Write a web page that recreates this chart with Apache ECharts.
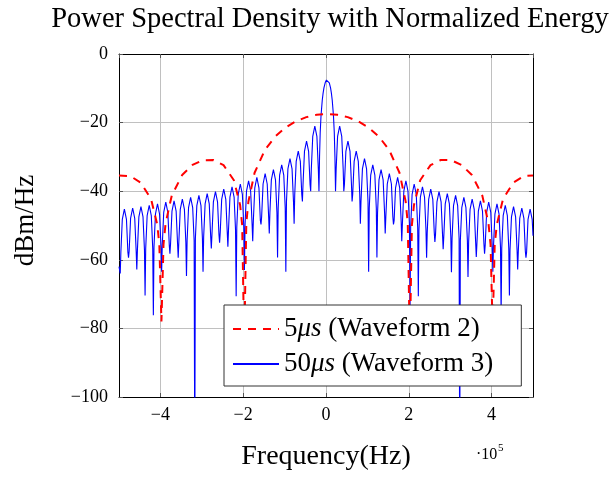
<!DOCTYPE html>
<html><head><meta charset="utf-8">
<script src="https://cdn.jsdelivr.net/npm/echarts@6/dist/echarts.min.js"></script>
<style>html,body{margin:0;padding:0;background:#fff}#c{width:610px;height:477px}</style>
</head><body><div id="c"></div>
<script>
// Frequencies in units of 1e5 Hz, values in dBm/Hz
const titleText = 'Power Spectral Density with Normalized Energy';
const xName = 'Frequency(Hz)';
const yName = 'dBm/Hz';
const seriesNames = ['5μs (Waveform 2)', '50μs (Waveform 3)'];
const xTickValues = [-4, -2, 0, 2, 4];
const yTickValues = [-100, -80, -60, -40, -20, 0];

const red5us = [
[-5,-35.4],[-4.725,-35.6],[-4.475,-37.5],[-4.225,-42.3],[-4.075,-49.8],[-4.025,-55.7],[-3.975,-78],[-3.925,-55.5],[-3.875,-49.4],[-3.725,-41.25],[-3.475,-35.3],[-3.225,-32.35],[-2.975,-30.96],[-2.725,-30.9],[-2.475,-32.4],[-2.225,-36.8],[-2.075,-44.0],[-2.025,-49.8],[-1.975,-85],[-1.925,-49.3],[-1.875,-43.1],[-1.725,-34.63],[-1.475,-27.95],[-1.225,-24.05],[-0.975,-21.42],[-0.725,-19.61],[-0.475,-18.41],[-0.225,-17.72],[0.025,-17.5],[0.275,-17.72],[0.525,-18.41],[0.775,-19.61],[1.025,-21.42],[1.275,-24.05],[1.525,-27.95],[1.775,-34.63],[1.925,-43.1],[1.975,-49.3],[2.025,-85],[2.075,-49.8],[2.125,-44.0],[2.275,-36.8],[2.525,-32.4],[2.775,-30.9],[3.025,-30.96],[3.275,-32.35],[3.525,-35.3],[3.775,-41.25],[3.925,-49.4],[3.975,-55.5],[4.025,-80],[4.075,-55.7],[4.125,-49.8],[4.275,-42.3],[4.525,-37.5],[4.775,-35.6],[5,-35.4]
];

const blue50us = [
[-5,-62],[-4.97,-64],
[-4.955,-57.8],[-4.92,-48.2],[-4.87,-45.2],[-4.82,-48.2],[-4.785,-57.8],[-4.77,-59.4],
[-4.755,-57.5],[-4.72,-47.9],[-4.67,-44.9],[-4.62,-47.9],[-4.585,-57.5],[-4.57,-62.8],
[-4.555,-57.1],[-4.52,-47.5],[-4.47,-44.5],[-4.42,-47.5],[-4.385,-57.1],[-4.37,-70.4],
[-4.355,-56.7],[-4.32,-47.1],[-4.27,-44.1],[-4.22,-47.1],[-4.185,-56.7],[-4.17,-76.2],
[-4.155,-56.3],[-4.12,-46.7],[-4.07,-43.7],[-4.02,-46.7],[-3.985,-56.3],[-3.97,-63.5],
[-3.955,-55.8],[-3.92,-46.2],[-3.87,-43.2],[-3.82,-46.2],[-3.785,-55.8],[-3.77,-58.2],
[-3.755,-55.4],[-3.72,-45.8],[-3.67,-42.8],[-3.62,-45.8],[-3.585,-55.4],[-3.57,-59.4],
[-3.555,-54.9],[-3.52,-45.3],[-3.47,-42.3],[-3.42,-45.3],[-3.385,-54.9],[-3.37,-64.7],
[-3.355,-54.4],[-3.32,-44.8],[-3.27,-41.8],[-3.22,-44.8],[-3.185,-54.4],[-3.17,-120],
[-3.155,-53.8],[-3.12,-44.2],[-3.07,-41.2],[-3.02,-44.2],[-2.985,-53.8],[-2.97,-63.5],
[-2.955,-53.3],[-2.92,-43.7],[-2.87,-40.7],[-2.82,-43.7],[-2.785,-53.3],[-2.77,-56.7],
[-2.755,-52.7],[-2.72,-43.1],[-2.67,-40.1],[-2.62,-43.1],[-2.585,-52.7],[-2.57,-55],
[-2.555,-52.0],[-2.52,-42.4],[-2.47,-39.4],[-2.42,-42.4],[-2.385,-52.0],[-2.37,-56.2],
[-2.355,-51.3],[-2.32,-41.7],[-2.27,-38.7],[-2.22,-41.7],[-2.185,-51.3],[-2.17,-70.6],
[-2.155,-50.5],[-2.12,-40.9],[-2.07,-37.9],[-2.02,-40.9],[-1.985,-50.5],[-1.97,-63],
[-1.955,-49.6],[-1.92,-40.0],[-1.87,-37.0],[-1.82,-40.0],[-1.785,-49.6],[-1.77,-54.6],
[-1.755,-48.6],[-1.72,-39.0],[-1.67,-36.0],[-1.62,-39.0],[-1.585,-48.6],[-1.57,-49.7],
[-1.555,-47.5],[-1.52,-37.9],[-1.47,-34.9],[-1.42,-37.9],[-1.385,-47.5],[-1.37,-52.3],
[-1.355,-46.3],[-1.32,-36.7],[-1.27,-33.7],[-1.22,-36.7],[-1.185,-46.3],[-1.17,-59.3],
[-1.155,-44.9],[-1.12,-35.3],[-1.07,-32.3],[-1.02,-35.3],[-0.985,-44.9],[-0.97,-63.5],
[-0.955,-43.1],[-0.92,-33.5],[-0.87,-30.5],[-0.82,-33.5],[-0.785,-43.1],[-0.77,-49.5],
[-0.755,-40.9],[-0.72,-31.3],[-0.67,-28.3],[-0.62,-31.3],[-0.585,-40.9],[-0.57,-43],
[-0.555,-38.0],[-0.52,-28.4],[-0.47,-25.4],[-0.42,-28.4],[-0.385,-38.0],[-0.37,-40],
[-0.355,-33.6],[-0.32,-24.0],[-0.27,-21.0],[-0.22,-24.0],[-0.185,-33.6],[-0.17,-40],
[-0.156,-30.0],[-0.14,-22.9],[-0.12,-17.95],[-0.09,-13.4],[-0.07,-11.4],[-0.05,-9.9],[-0.02,-8.4],[0.01,-7.6],[0.03,-7.5],[0.05,-7.6],[0.08,-8.4],[0.11,-9.9],[0.13,-11.4],[0.15,-13.4],[0.18,-17.95],[0.2,-22.9],[0.216,-30.0],[0.23,-40],
[0.245,-33.6],[0.28,-24.0],[0.33,-21.0],[0.38,-24.0],[0.415,-33.6],[0.43,-40],
[0.445,-38.0],[0.48,-28.4],[0.53,-25.4],[0.58,-28.4],[0.615,-38.0],[0.63,-43],
[0.645,-40.9],[0.68,-31.3],[0.73,-28.3],[0.78,-31.3],[0.815,-40.9],[0.83,-49.5],
[0.845,-43.1],[0.88,-33.5],[0.93,-30.5],[0.98,-33.5],[1.015,-43.1],[1.03,-63.5],
[1.045,-44.9],[1.08,-35.3],[1.13,-32.3],[1.18,-35.3],[1.215,-44.9],[1.23,-59.3],
[1.245,-46.3],[1.28,-36.7],[1.33,-33.7],[1.38,-36.7],[1.415,-46.3],[1.43,-52.3],
[1.445,-47.5],[1.48,-37.9],[1.53,-34.9],[1.58,-37.9],[1.615,-47.5],[1.63,-49.7],
[1.645,-48.6],[1.68,-39.0],[1.73,-36.0],[1.78,-39.0],[1.815,-48.6],[1.83,-54.6],
[1.845,-49.6],[1.88,-40.0],[1.93,-37.0],[1.98,-40.0],[2.015,-49.6],[2.03,-74],
[2.045,-50.5],[2.08,-40.9],[2.13,-37.9],[2.18,-40.9],[2.215,-50.5],[2.23,-70.6],
[2.245,-51.3],[2.28,-41.7],[2.33,-38.7],[2.38,-41.7],[2.415,-51.3],[2.43,-59.4],
[2.445,-52.0],[2.48,-42.4],[2.53,-39.4],[2.58,-42.4],[2.615,-52.0],[2.63,-54.8],
[2.645,-52.7],[2.68,-43.1],[2.73,-40.1],[2.78,-43.1],[2.815,-52.7],[2.83,-56.9],
[2.845,-53.3],[2.88,-43.7],[2.93,-40.7],[2.98,-43.7],[3.015,-53.3],[3.03,-63.6],
[3.045,-53.8],[3.08,-44.2],[3.13,-41.2],[3.18,-44.2],[3.215,-53.8],[3.23,-120],
[3.245,-54.4],[3.28,-44.8],[3.33,-41.8],[3.38,-44.8],[3.415,-54.4],[3.43,-65],
[3.445,-54.9],[3.48,-45.3],[3.53,-42.3],[3.58,-45.3],[3.615,-54.9],[3.63,-59.2],
[3.645,-55.4],[3.68,-45.8],[3.73,-42.8],[3.78,-45.8],[3.815,-55.4],[3.83,-58.2],
[3.845,-55.8],[3.88,-46.2],[3.93,-43.2],[3.98,-46.2],[4.015,-55.8],[4.03,-63.5],
[4.045,-56.3],[4.08,-46.7],[4.13,-43.7],[4.18,-46.7],[4.215,-56.3],[4.23,-76.2],
[4.245,-56.7],[4.28,-47.1],[4.33,-44.1],[4.38,-47.1],[4.415,-56.7],[4.43,-70.4],
[4.445,-57.1],[4.48,-47.5],[4.53,-44.5],[4.58,-47.5],[4.615,-57.1],[4.63,-62.8],
[4.645,-57.5],[4.68,-47.9],[4.73,-44.9],[4.78,-47.9],[4.815,-57.5],[4.83,-59.4],
[4.845,-57.8],[4.88,-48.2],[4.93,-45.2],[4.98,-48.2],[5,-53]
];

const FONT = '"Liberation Serif", "DejaVu Serif", serif';
const minus = v => (v < 0 ? '\u2212' + Math.abs(v) : String(v));

const chart = echarts.init(document.getElementById('c'), null, {renderer: 'canvas'});

const borderAxis = {lineStyle: {color: '#000', width: 1}};
const tickStyle = {inside: true, length: 4, lineStyle: {color: '#555', width: 1}};
const gridLine = {show: true, lineStyle: {color: '#c0c0c0', width: 1}};

chart.setOption({
  animation: false,
  backgroundColor: '#fff',
  title: {
    text: titleText, left: 325, top: 0, textAlign: 'center',
    textStyle: {fontFamily: FONT, fontSize: 28.5, fontWeight: 'normal', color: '#000'}
  },
  grid: {left: 119, right: 77, top: 54, bottom: 80, containLabel: false},
  xAxis: [{
    type: 'value', min: -5, max: 5, splitNumber: 5, position: 'bottom',
    axisLine: Object.assign({show: true, onZero: false}, borderAxis),
    axisTick: Object.assign({show: true}, tickStyle),
    axisLabel: {showMinLabel: false, showMaxLabel: false, formatter: v => xTickValues.includes(v) ? minus(v) : '',
      fontFamily: FONT, fontSize: 18, color: '#000', margin: 9},
    splitLine: gridLine,
    name: xName, nameLocation: 'middle', nameGap: 46,
    nameTextStyle: {fontFamily: FONT, fontSize: 28, color: '#000'}
  }, {
    type: 'value', min: -5, max: 5, splitNumber: 5, position: 'top',
    axisLine: Object.assign({show: true, onZero: false}, borderAxis),
    axisTick: Object.assign({show: true}, tickStyle),
    axisLabel: {show: false}, splitLine: {show: false}
  }],
  yAxis: [{
    type: 'value', min: -100, max: 0, interval: 20, position: 'left',
    axisLine: Object.assign({show: true, onZero: false}, borderAxis),
    axisTick: Object.assign({show: true}, tickStyle),
    axisLabel: {formatter: v => yTickValues.includes(v) ? minus(v) : '', fontFamily: FONT, fontSize: 18, color: '#000', margin: 11},
    splitLine: gridLine,
    name: yName, nameLocation: 'middle', nameGap: 80, nameRotate: 90,
    nameTextStyle: {fontFamily: FONT, fontSize: 27, color: '#000', padding: [0, 0, 0, 10]}
  }, {
    type: 'value', min: -100, max: 0, interval: 20, position: 'right',
    axisLine: Object.assign({show: true, onZero: false}, borderAxis),
    axisTick: Object.assign({show: true}, tickStyle),
    axisLabel: {show: false}, splitLine: {show: false}
  }],
  legend: {
    orient: 'vertical', left: 224, top: 305,
    padding: [9, 28, 7, 8], itemGap: 5, itemWidth: 46, itemHeight: 14,
    backgroundColor: '#fff', borderColor: '#333', borderWidth: 1, borderRadius: 0,
    data: seriesNames,
    itemStyle: {opacity: 0},
    formatter: name => name.replace(/^(\d+)μs(.*)$/, '{n|$1}{i|μs}{n|$2}'),
    textStyle: {
      fontFamily: FONT, fontSize: 27, color: '#000', lineHeight: 30,
      rich: {
        n: {fontFamily: FONT, fontSize: 27, color: '#000', lineHeight: 30},
        i: {fontFamily: FONT, fontSize: 27, color: '#000', fontStyle: 'italic', lineHeight: 30}
      }
    }
  },
  graphic: [
    {type: 'text', left: 476, top: 447, style: {text: '\u00b710', font: '16px ' + FONT, fill: '#000'}},
    {type: 'text', left: 498, top: 443, style: {text: '5', font: '11px ' + FONT, fill: '#000'}}
  ],
  series: [{
    name: seriesNames[0], type: 'line', data: red5us, symbol: 'none', showSymbol: false,
    clip: true, z: 3,
    lineStyle: {color: '#ff0000', width: 2, type: [8, 7]},
    itemStyle: {color: '#ff0000'}
  }, {
    name: seriesNames[1], type: 'line', data: blue50us, symbol: 'none', showSymbol: false,
    clip: true, z: 2,
    lineStyle: {color: '#0000ff', width: 1.1},
    itemStyle: {color: '#0000ff'}
  }]
});
</script>
</body></html>
